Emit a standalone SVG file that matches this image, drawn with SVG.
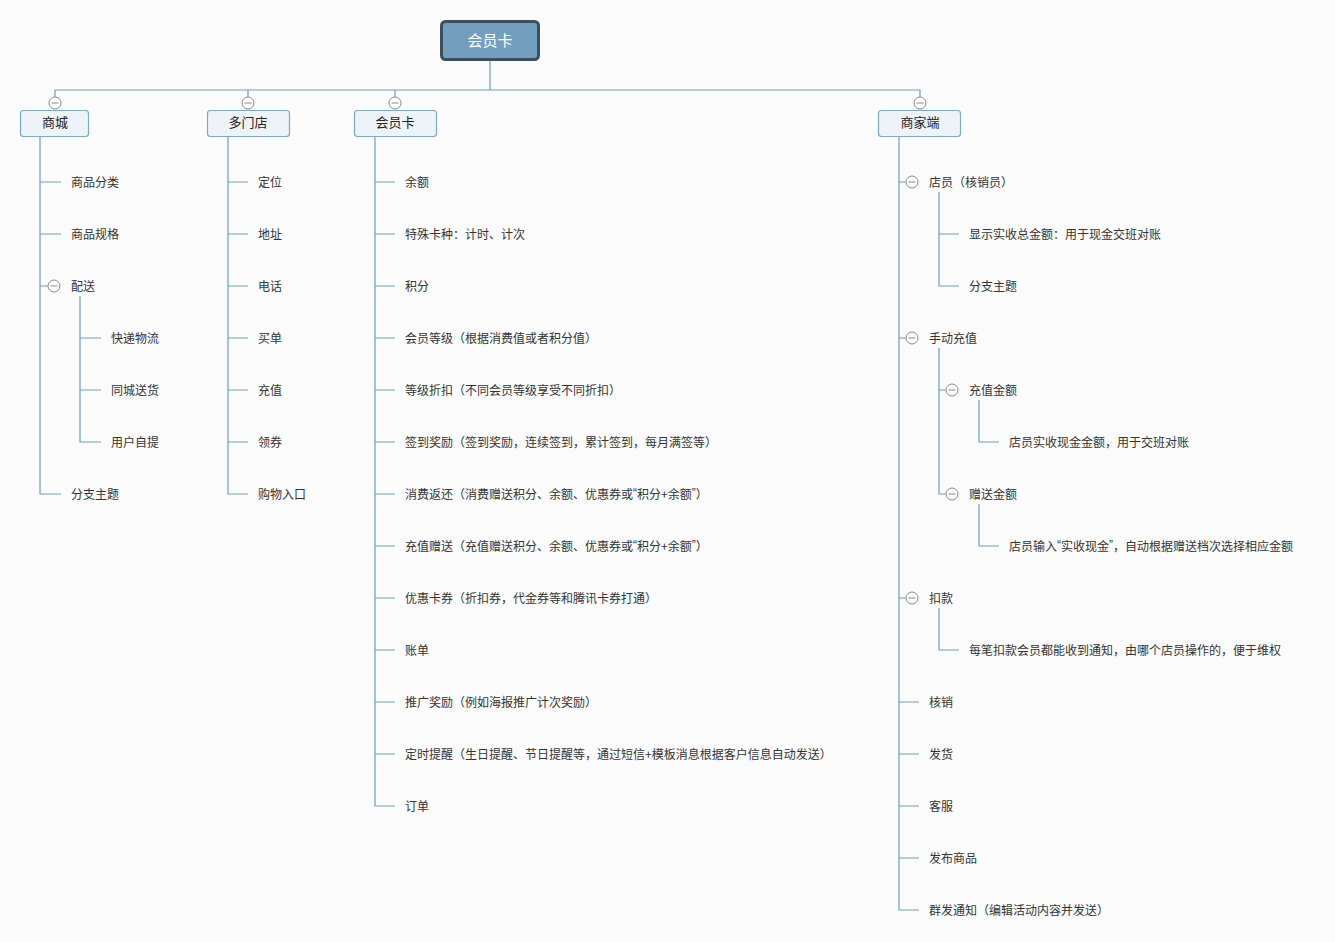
<svg xmlns="http://www.w3.org/2000/svg" width="1335" height="942" viewBox="0 0 1335 942">
<style>
.bg{fill:#fbfbfb}
.ln{stroke:#6a9fc4;stroke-width:1.2;fill:none}
.box{fill:#eef3f8;stroke:#7ea8c7;stroke-width:1.2}
.t{font-family:"Noto Sans CJK SC","Microsoft YaHei",sans-serif;font-size:12px;fill:#333;dominant-baseline:central;transform:translateY(-1px)}
.q{font-family:"Liberation Sans",sans-serif}
.bt{font-family:"Noto Sans CJK SC",sans-serif;font-size:13px;fill:#222;text-anchor:middle;dominant-baseline:central;transform:translateY(-1px)}
.rt{font-family:"Noto Sans CJK SC",sans-serif;font-size:15px;fill:#fff;text-anchor:middle;dominant-baseline:central;transform:translateY(-1px)}
.c{fill:#fff;stroke:#8a8a8a;stroke-width:1}
.m{stroke:#8a8a8a;stroke-width:1}
</style>
<defs>
<g id="col"><circle class="c" cx="0" cy="0" r="6"/><line class="m" x1="-3.5" y1="0" x2="3.5" y2="0"/></g>
</defs>
<rect class="bg" x="0" y="0" width="1335" height="942"/>
<g id="connectors">
<path class="ln" d="M490 60V90M55 90H920M55 90V97M248 90V97M395 90V97M920 90V97"/>
<path class="ln" d="M40 136V494H61M40 182H61M40 234H61M40 286H48M80 296V442H101M80 338H101M80 390H101"/>
<path class="ln" d="M228 136V494H248M228 182H248M228 234H248M228 286H248M228 338H248M228 390H248M228 442H248"/>
<path class="ln" d="M375 136V806H395M375 182H395M375 234H395M375 286H395M375 338H395M375 390H395M375 442H395M375 494H395M375 546H395M375 598H395M375 650H395M375 702H395M375 754H395"/>
<path class="ln" d="M899 136V910H919M899 182H906M899 338H906M899 598H906M899 702H919M899 754H919M899 806H919M899 858H919"/>
<path class="ln" d="M939 192V286H959M939 234H959"/>
<path class="ln" d="M939 348V494H946M939 390H946"/>
<path class="ln" d="M979 400V442H999M979 504V546H999"/>
<path class="ln" d="M939 608V650H959"/>
</g>
<g id="root">
<rect x="441.5" y="21.5" width="97" height="38" rx="4" fill="#739fbf" stroke="#3b4f5e" stroke-width="3"/>
<text class="rt" x="490" y="40">会员卡</text>
</g>
<g id="n-mall">
<use href="#col" x="55" y="103"/>
<rect class="box" x="20.5" y="110.5" width="68" height="26" rx="3"/>
<text class="bt" x="55" y="122">商城</text>
<text class="t" x="71" y="182">商品分类</text>
<text class="t" x="71" y="234">商品规格</text>
<use href="#col" x="54" y="286"/>
<text class="t" x="71" y="286">配送</text>
<text class="t" x="111" y="338">快递物流</text>
<text class="t" x="111" y="390">同城送货</text>
<text class="t" x="111" y="442">用户自提</text>
<text class="t" x="71" y="494">分支主题</text>
</g>
<g id="n-stores">
<use href="#col" x="248" y="103"/>
<rect class="box" x="207.5" y="110.5" width="82" height="26" rx="3"/>
<text class="bt" x="248" y="122">多门店</text>
<text class="t" x="258" y="182">定位</text>
<text class="t" x="258" y="234">地址</text>
<text class="t" x="258" y="286">电话</text>
<text class="t" x="258" y="338">买单</text>
<text class="t" x="258" y="390">充值</text>
<text class="t" x="258" y="442">领券</text>
<text class="t" x="258" y="494">购物入口</text>
</g>
<g id="n-card">
<use href="#col" x="395" y="103"/>
<rect class="box" x="354.5" y="110.5" width="82" height="26" rx="3"/>
<text class="bt" x="395" y="122">会员卡</text>
<text class="t" x="405" y="182">余额</text>
<text class="t" x="405" y="234">特殊卡种：计时、计次</text>
<text class="t" x="405" y="286">积分</text>
<text class="t" x="405" y="338">会员等级（根据消费值或者积分值）</text>
<text class="t" x="405" y="390">等级折扣（不同会员等级享受不同折扣）</text>
<text class="t" x="405" y="442">签到奖励（签到奖励，连续签到，累计签到，每月满签等）</text>
<text class="t" x="405" y="494">消费返还（消费赠送积分、余额、优惠券或<tspan class="q">“</tspan>积分+余额<tspan class="q">”</tspan>）</text>
<text class="t" x="405" y="546">充值赠送（充值赠送积分、余额、优惠券或<tspan class="q">“</tspan>积分+余额<tspan class="q">”</tspan>）</text>
<text class="t" x="405" y="598">优惠卡券（折扣券，代金券等和腾讯卡券打通）</text>
<text class="t" x="405" y="650">账单</text>
<text class="t" x="405" y="702">推广奖励（例如海报推广计次奖励）</text>
<text class="t" x="405" y="754">定时提醒（生日提醒、节日提醒等，通过短信+模板消息根据客户信息自动发送）</text>
<text class="t" x="405" y="806">订单</text>
</g>
<g id="n-merchant">
<use href="#col" x="920" y="103"/>
<rect class="box" x="878.5" y="110.5" width="82" height="26" rx="3"/>
<text class="bt" x="920" y="122">商家端</text>
<use href="#col" x="912" y="182"/>
<text class="t" x="929" y="182">店员（核销员）</text>
<text class="t" x="969" y="234">显示实收总金额：用于现金交班对账</text>
<text class="t" x="969" y="286">分支主题</text>
<use href="#col" x="912" y="338"/>
<text class="t" x="929" y="338">手动充值</text>
<use href="#col" x="952" y="390"/>
<text class="t" x="969" y="390">充值金额</text>
<text class="t" x="1009" y="442">店员实收现金金额，用于交班对账</text>
<use href="#col" x="952" y="494"/>
<text class="t" x="969" y="494">赠送金额</text>
<text class="t" x="1009" y="546">店员输入<tspan class="q">“</tspan>实收现金<tspan class="q">”</tspan>，自动根据赠送档次选择相应金额</text>
<use href="#col" x="912" y="598"/>
<text class="t" x="929" y="598">扣款</text>
<text class="t" x="969" y="650">每笔扣款会员都能收到通知，由哪个店员操作的，便于维权</text>
<text class="t" x="929" y="702">核销</text>
<text class="t" x="929" y="754">发货</text>
<text class="t" x="929" y="806">客服</text>
<text class="t" x="929" y="858">发布商品</text>
<text class="t" x="929" y="910">群发通知（编辑活动内容并发送）</text>
</g>
</svg>
